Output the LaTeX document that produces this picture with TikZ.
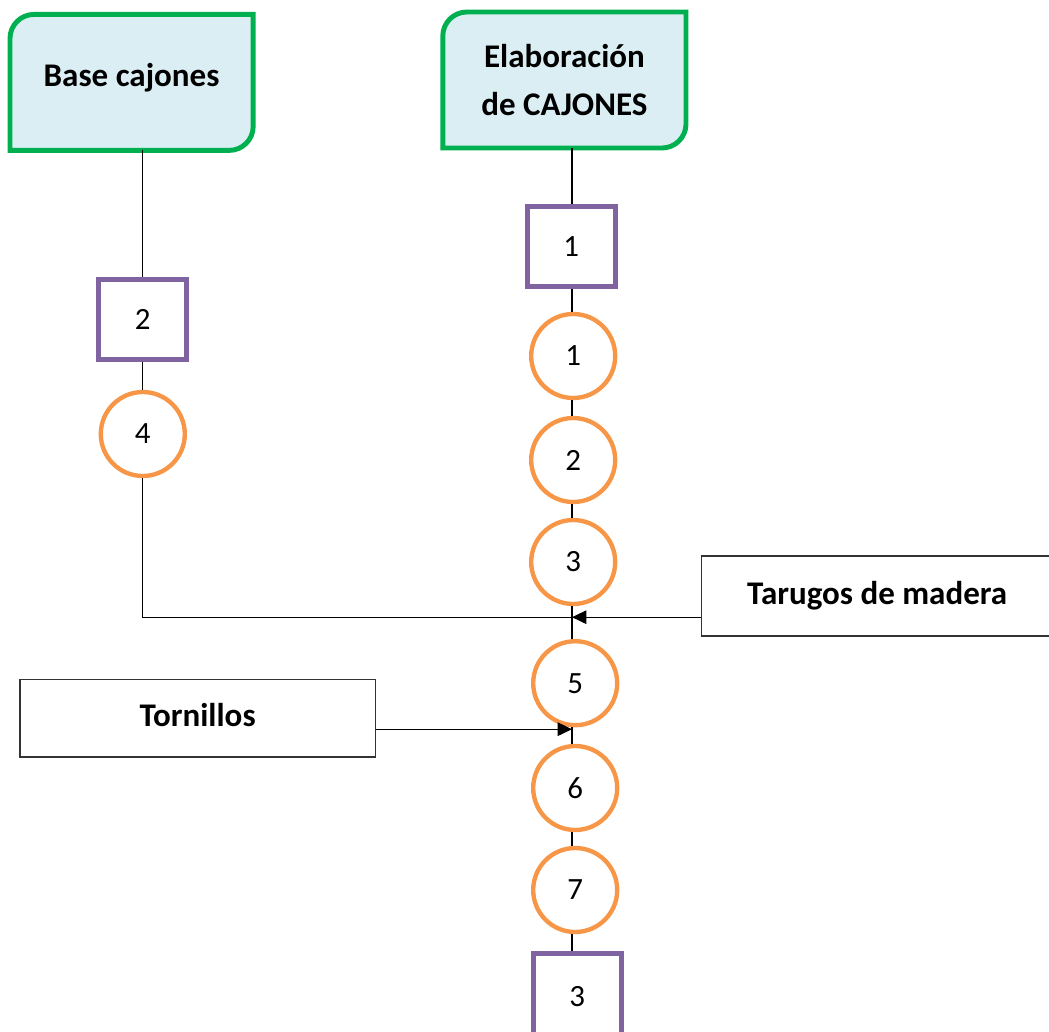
\documentclass[tikz,border=0pt]{standalone}
\usepackage{fontspec}
\setmainfont{Carlito}
\usetikzlibrary{arrows.meta,backgrounds}

\definecolor{hdrgreen}{HTML}{00B050}
\definecolor{hdrfill}{HTML}{DAEEF3}
\definecolor{oppurple}{HTML}{8064A2}
\definecolor{oporange}{HTML}{F79646}

\tikzset{
  hdr/.style={draw=none,outer sep=0pt,minimum width=6.08cm,minimum height=3.4cm,align=center,font=\fontsize{23.5}{34}\selectfont\bfseries},
  hdrline/.style={draw=hdrgreen,line width=3.5pt,fill=hdrfill},
  sqop/.style={draw=oppurple,line width=3.4pt,fill=white,minimum width=2.2cm,minimum height=2.0cm,font=\fontsize{22}{26}\selectfont},
  ciop/.style={circle,draw=oporange,line width=3.1pt,fill=white,minimum size=2.1cm,inner sep=0pt,font=\fontsize{22}{26}\selectfont},
  inbox/.style={draw=black!80,line width=0.8pt,fill=white,font=\fontsize{23.5}{28}\selectfont\bfseries},
  link/.style={draw=black,line width=0.8pt}
}
\newcommand{\hdrshape}[1]{\filldraw[hdrline] ([yshift=0.6cm]#1.south west) -- ([yshift=-0.6cm]#1.north west) arc[start angle=180,end angle=90,radius=0.6cm] -- (#1.north east) -- ([yshift=0.6cm]#1.south east) arc[start angle=0,end angle=-90,radius=0.6cm] -- (#1.south west) -- cycle;}

\begin{document}
\begin{tikzpicture}[>={Triangle[length=3.6mm,width=3.4mm]}]
\useasboundingbox (0,0) rectangle (26.225,-25.8);
\clip (0,0) rectangle (26.225,-25.8);
% headers
\node[hdr] (base) at (3.29,-2.06) {\raisebox{0.35cm}{Base cajones}};
\node[hdr] (elab) at (14.11,-2.0) {Elaboración\\de CAJONES};
\begin{scope}[on background layer]
\hdrshape{base}
\hdrshape{elab}
\end{scope}
% left column
\node[sqop] (sq2) at (3.57,-7.98) {2};
\node[ciop] (c4) at (3.57,-10.85) {4};
% main column
\node[sqop] (sq1) at (14.28,-6.16) {1};
\node[ciop] (c1) at (14.33,-8.9) {1};
\node[ciop] (c2) at (14.33,-11.5) {2};
\node[ciop] (c3) at (14.33,-14.05) {3};
\node[ciop] (c5) at (14.38,-17.08) {5};
\node[ciop] (c6) at (14.38,-19.7) {6};
\node[ciop] (c7) at (14.38,-22.25) {7};
\node[sqop,minimum height=2.3cm] (sq3) at (14.43,-24.98) {\raisebox{0.15cm}{3}};
\coordinate (j1) at (14.3,-15.43);
\coordinate (j2) at (14.3,-18.23);
% materials
\node[inbox,minimum width=8.8cm,minimum height=2cm] (tarugos) at (21.93,-14.9) {\raisebox{0.15cm}{Tarugos de madera}};
\node[inbox,minimum width=8.88cm,minimum height=1.93cm] (tornillos) at (4.94,-17.96) {\raisebox{0.15cm}{Tornillos}};
% connectors
\draw[link] (sq2 |- base.south) -- (sq2.north);
\draw[link] (sq2) -- (c4);
\draw[link] (c4.south) |- (j1);
\draw[link] (j1 |- elab.south) -- (j1 |- sq1.north);
\draw[link] (j1 |- sq1.south) -- (j1 |- c1.north);
\draw[link] (j1 |- c1.south) -- (j1 |- c2.north);
\draw[link] (j1 |- c2.south) -- (j1 |- c3.north);
\draw[link] (j1 |- c3.south) -- (j1 |- c5.north);
\draw[link] (j1 |- c5.south) -- (j1 |- c6.north);
\draw[link] (j1 |- c6.south) -- (j1 |- c7.north);
\draw[link] (j1 |- c7.south) -- (j1 |- sq3.north);
\draw[link,->] (tarugos.west |- j1) -- (j1);
\draw[link,->] (tornillos.east |- j2) -- (j2);
\end{tikzpicture}
\end{document}
